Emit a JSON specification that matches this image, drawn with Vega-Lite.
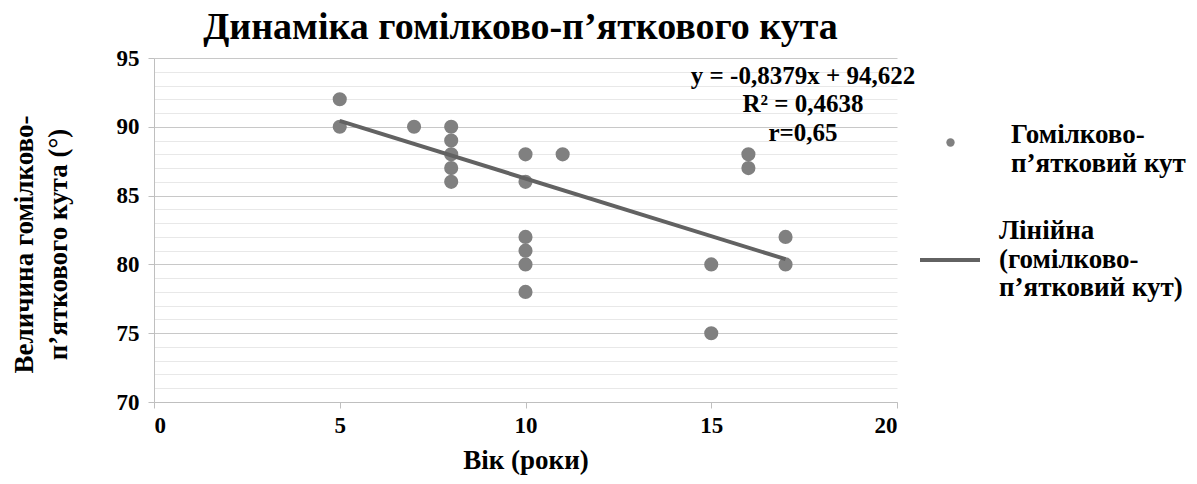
{
  "$schema": "https://vega.github.io/schema/vega-lite/v6.json",
  "width": 743,
  "height": 344,
  "autosize": {"type": "none"},
  "padding": {"left": 154, "top": 58, "right": 300, "bottom": 82},
  "background": "white",
  "config": {
    "font": "Liberation Serif, Times New Roman, DejaVu Serif, serif",
    "view": {"stroke": null},
    "axis": {
      "labelFont": "Liberation Serif, Times New Roman, DejaVu Serif, serif",
      "labelFontWeight": "bold",
      "labelFontSize": 23,
      "labelColor": "black",
      "titleFont": "Liberation Serif, Times New Roman, DejaVu Serif, serif",
      "titleFontWeight": "bold",
      "titleFontSize": 27,
      "titleColor": "black",
      "domainColor": "#bfbfbf",
      "tickColor": "#bfbfbf",
      "tickSize": 6
    },
    "legend": {
      "labelFont": "Liberation Serif, Times New Roman, DejaVu Serif, serif",
      "labelFontWeight": "bold",
      "labelFontSize": 27,
      "labelColor": "black",
      "labelLimit": 0,
      "padding": 0
    }
  },
  "title": {
    "text": "Динаміка гомілково-п’яткового кута",
    "font": "Liberation Serif, Times New Roman, DejaVu Serif, serif",
    "fontWeight": "bold",
    "fontSize": 38,
    "color": "black",
    "anchor": "middle",
    "offset": 0,
    "dx": -5
  },
  "datasets": {
    "points": [
      {"age": 5, "angle": 92},
      {"age": 5, "angle": 90},
      {"age": 7, "angle": 90},
      {"age": 8, "angle": 90},
      {"age": 8, "angle": 89},
      {"age": 8, "angle": 88},
      {"age": 8, "angle": 87},
      {"age": 8, "angle": 86},
      {"age": 10, "angle": 88},
      {"age": 10, "angle": 86},
      {"age": 10, "angle": 82},
      {"age": 10, "angle": 81},
      {"age": 10, "angle": 80},
      {"age": 10, "angle": 78},
      {"age": 11, "angle": 88},
      {"age": 15, "angle": 80},
      {"age": 15, "angle": 75},
      {"age": 16, "angle": 88},
      {"age": 16, "angle": 87},
      {"age": 17, "angle": 82},
      {"age": 17, "angle": 80}
    ],
    "trend": [
      {"age": 5, "angle": 90.43},
      {"age": 17, "angle": 80.38}
    ]
  },
  "layer": [
    {
      "data": {"name": "points"},
      "mark": {"type": "point", "filled": true, "size": 200, "opacity": 1},
      "encoding": {
        "x": {
          "field": "age",
          "type": "quantitative",
          "scale": {"domain": [0, 20], "nice": false},
          "axis": {
            "values": [0, 5, 10, 15, 20],
            "grid": false,
            "title": "Вік (роки)",
            "labelPadding": 6,
            "titlePadding": 10
          }
        },
        "y": {
          "field": "angle",
          "type": "quantitative",
          "scale": {"domain": [70, 95], "nice": false, "zero": false},
          "axis": {
            "values": [70,71,72,73,74,75,76,77,78,79,80,81,82,83,84,85,86,87,88,89,90,91,92,93,94,95],
            "tickCount": 30,
            "labelOverlap": false,
            "labelExpr": "datum.value % 5 === 0 ? datum.label : ''",
            "tickOpacity": {"condition": {"test": "datum.value % 5 === 0", "value": 1}, "value": 0},
            "gridColor": {"condition": {"test": "datum.value % 5 === 0", "value": "#c8c8c8"}, "value": "#e8e8e8"},
            "labelPadding": 9,
            "title": ["Величина гомілково-", "п’яткового кута (°)"],
            "titleLineHeight": 34,
            "titleAngle": -90,
            "titleAlign": "center",
            "titleBaseline": "middle",
            "titleX": -130,
            "titleY": 186
          }
        },
        "color": {
          "datum": "Гомілково-|п’ятковий кут",
          "scale": {"range": ["#808080"]},
          "legend": {
            "title": null,
            "orient": "none",
            "legendX": 783,
            "legendY": 71,
            "symbolType": "circle",
            "symbolSize": 70,
            "labelOffset": 47,
            "labelBaseline": "alphabetic",
            "labelExpr": "split(datum.label, '|')",
            "encode": {"labels": {"update": {"lineHeight": {"value": 30}}}}
          }
        }
      }
    },
    {
      "data": {"name": "trend"},
      "mark": {"type": "line", "strokeWidth": 4},
      "encoding": {
        "x": {"field": "age", "type": "quantitative"},
        "y": {"field": "angle", "type": "quantitative"},
        "color": {
          "datum": "Лінійна|(гомілково-|п’ятковий кут)",
          "scale": {"range": ["#626262"]},
          "legend": {
            "title": null,
            "orient": "none",
            "legendX": 764,
            "legendY": 170,
            "symbolType": "stroke",
            "symbolSize": 3600,
            "symbolStrokeWidth": 4,
            "labelOffset": 17,
            "labelExpr": "split(datum.label, '|')",
            "encode": {"labels": {"update": {"lineHeight": {"value": 28.5}, "dy": {"value": -29}}}}
          }
        }
      }
    },
    {
      "data": {"values": [{}]},
      "mark": {
        "type": "text",
        "text": ["y = -0,8379x + 94,622", "R² = 0,4638", "r=0,65"],
        "font": "Liberation Serif, Times New Roman, DejaVu Serif, serif",
        "fontWeight": "bold",
        "fontSize": 25,
        "lineHeight": 28.5,
        "align": "center",
        "baseline": "middle",
        "color": "black"
      },
      "encoding": {
        "x": {"datum": 17.47, "type": "quantitative"},
        "y": {"datum": 93.7, "type": "quantitative"}
      }
    }
  ],
  "resolve": {"scale": {"color": "independent"}, "legend": {"color": "independent"}}
}
